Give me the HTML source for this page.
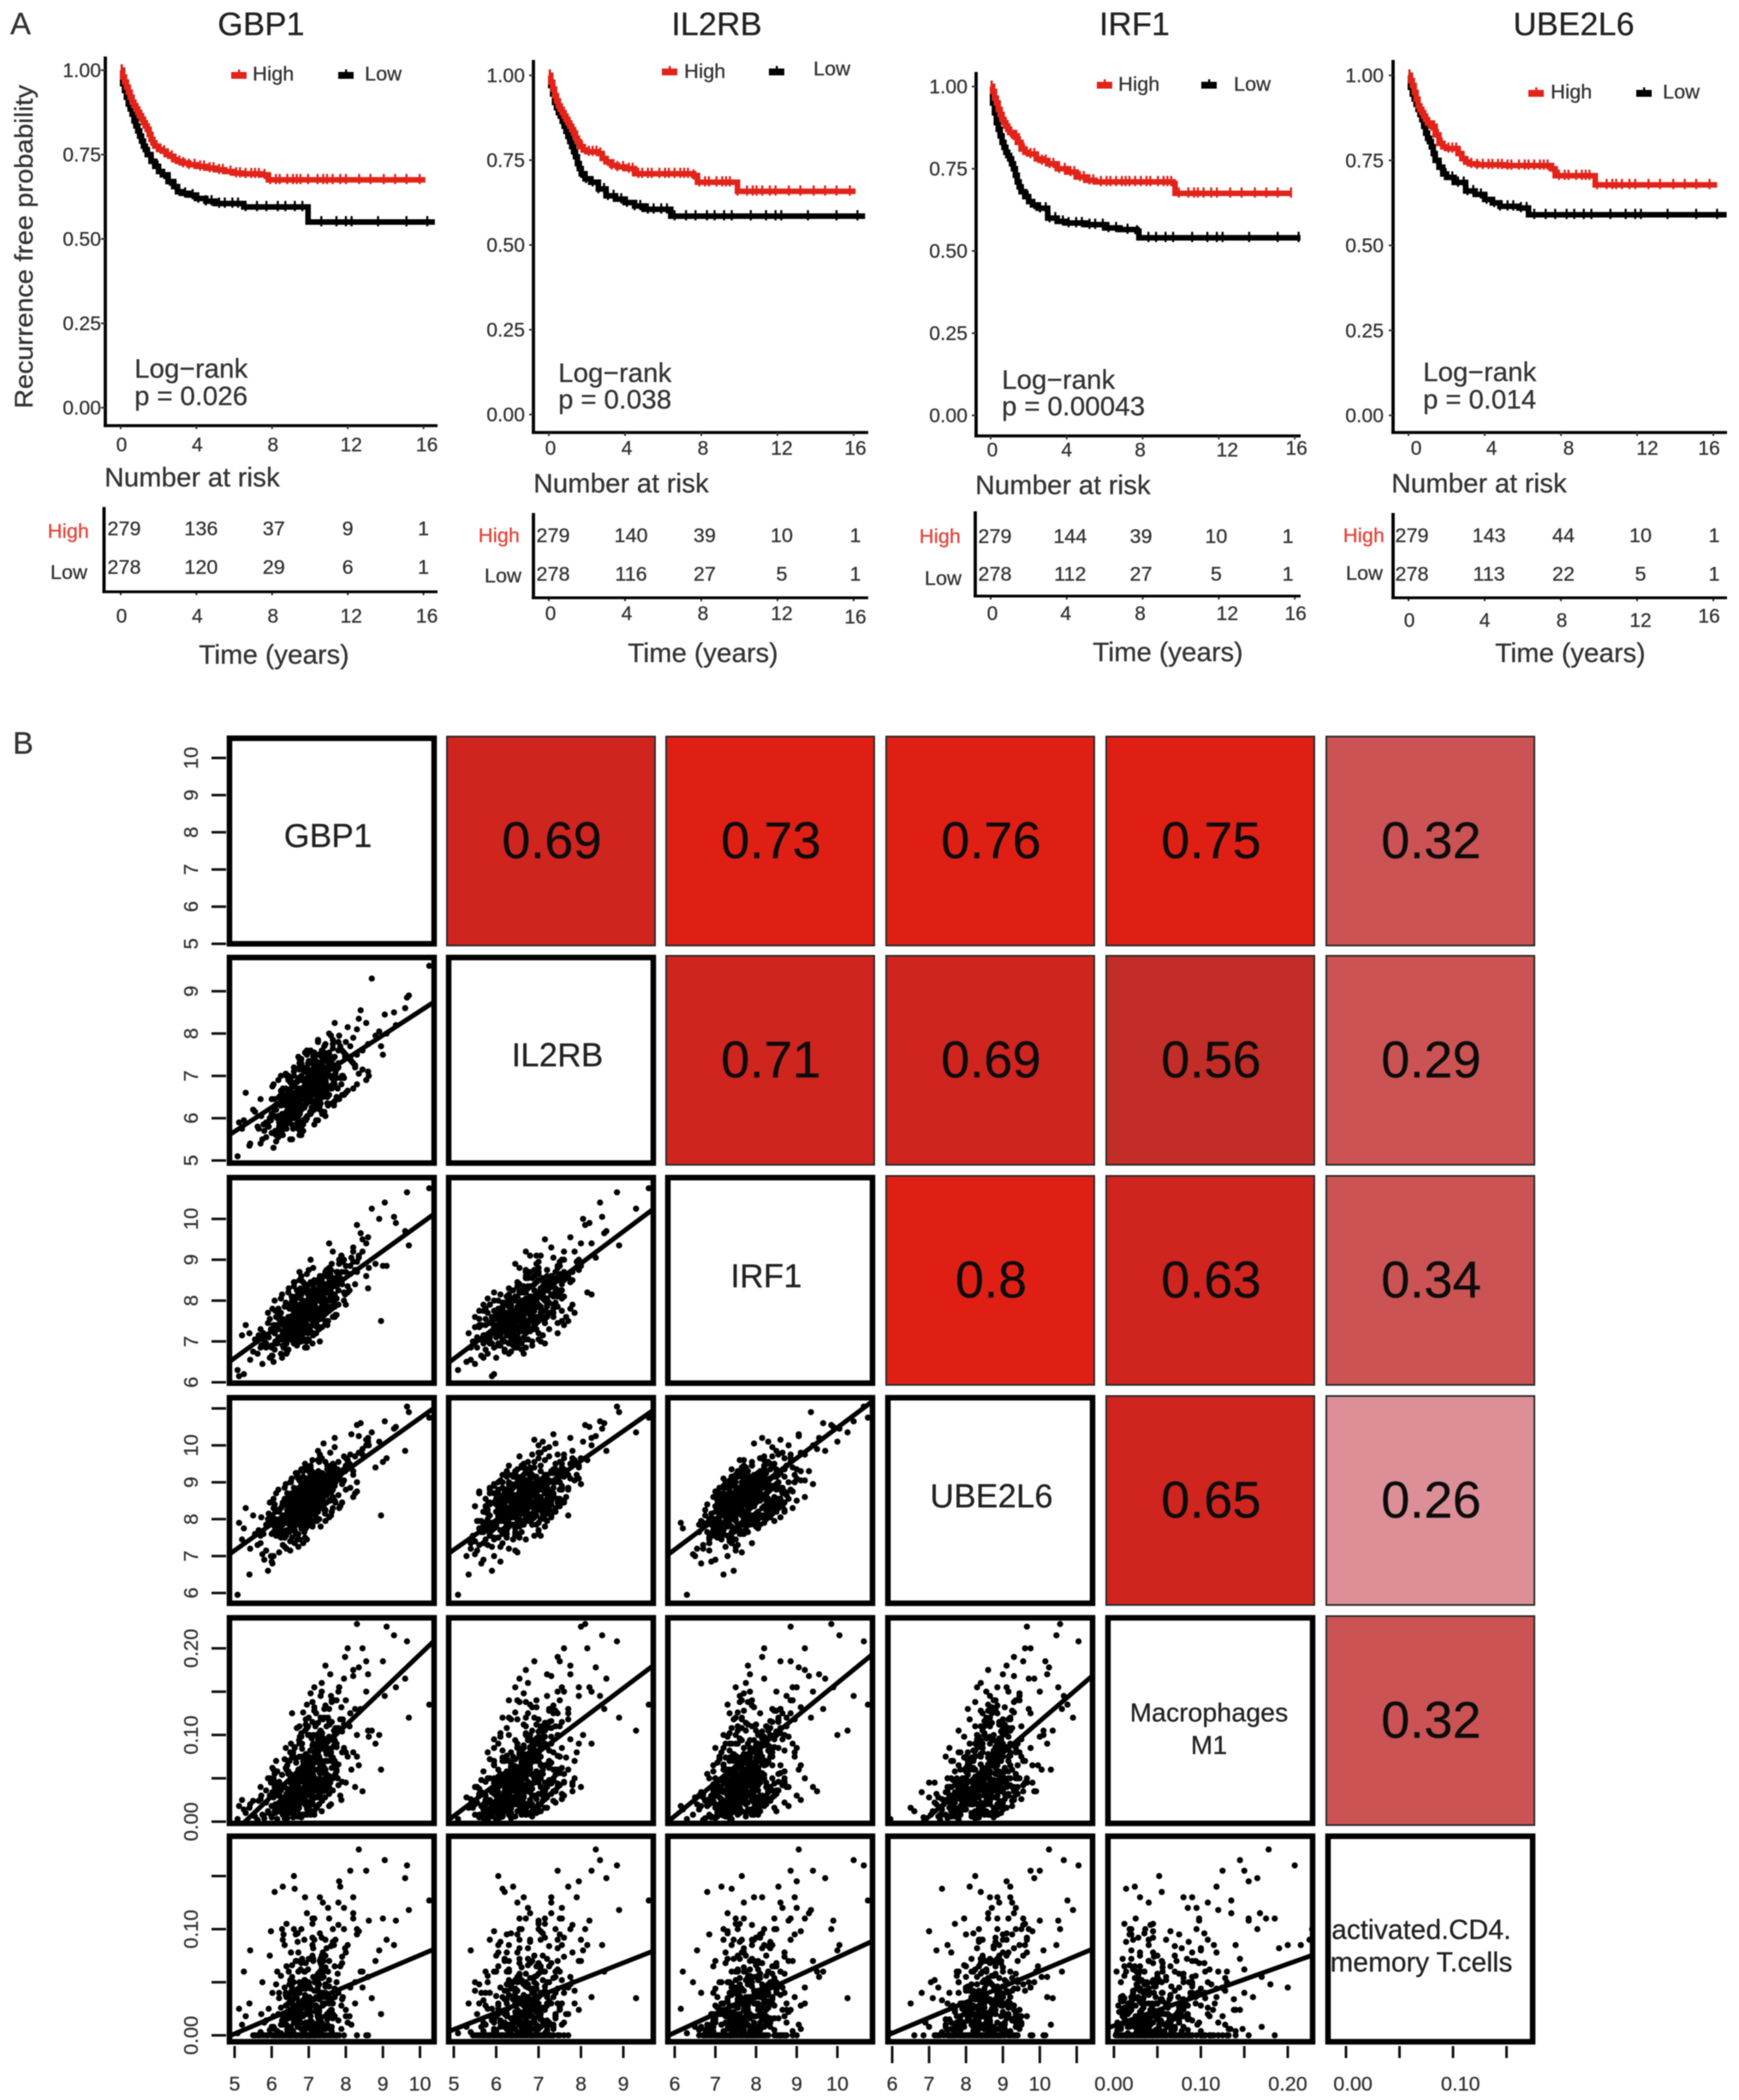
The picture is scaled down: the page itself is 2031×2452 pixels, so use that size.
<!DOCTYPE html>
<html lang="en">
<head>
<meta charset="utf-8">
<title>Survival curves and correlation matrix</title>
<style>
html,body{margin:0;padding:0;background:#fff;width:2031px;height:2452px;overflow:hidden}
svg{display:block;filter:blur(0.6px)}
text{font-family:"Liberation Sans",Arial,sans-serif;stroke:currentColor;stroke-width:0.3px}
</style>
</head>
<body>
<svg id="fig" xmlns="http://www.w3.org/2000/svg" width="2031" height="2452" viewBox="0 0 2031 2452">
<rect x="0" y="0" width="2031" height="2452" fill="#fff"/>
<text x="12" y="40" font-size="36" fill="#333" color="#333">A</text>
<text x="15" y="880" font-size="36" fill="#333" color="#333">B</text>
<text transform="translate(38 288) rotate(-90)" text-anchor="middle" font-size="30" fill="#333" color="#333" textLength="378" lengthAdjust="spacingAndGlyphs">Recurrence free probability</text>
</svg>
<script>
/* ---------- Panel A data: Kaplan-Meier curves ---------- */
const genes = ['GBP1','IL2RB','IRF1','UBE2L6'];
const pValues = ['p = 0.026','p = 0.038','p = 0.00043','p = 0.014'];
const timeTicks = [0,4,8,12,16];
const survTicks = [0,0.25,0.5,0.75,1];
const survTickLabels = ['0.00','0.25','0.50','0.75','1.00'];

const gbp1HighT = [0,0.1,0.2,0.3,0.4,0.5,0.6,0.7,0.8,0.9,1,1.1,1.2,1.3,1.4,1.5,1.6,1.7,1.8,2,2.2,2.4,2.6,2.8,3,3.3,3.6,4,4.5,5,5.5,6,6.5,7.5,7.8,16.1];
const gbp1HighS = [1,0.98,0.965,0.95,0.935,0.92,0.905,0.895,0.885,0.875,0.865,0.855,0.845,0.835,0.825,0.81,0.795,0.785,0.775,0.765,0.76,0.75,0.745,0.735,0.73,0.725,0.72,0.715,0.71,0.705,0.7,0.695,0.693,0.69,0.675,0.675];
const gbp1LowT = [0,0.1,0.2,0.3,0.4,0.5,0.6,0.7,0.8,0.9,1,1.1,1.2,1.3,1.4,1.6,1.8,2,2.2,2.5,2.8,3,3.3,3.6,4,4.5,5,6,6.5,9.8,9.9,16.6];
const gbp1LowS = [1,0.96,0.94,0.92,0.9,0.885,0.87,0.85,0.835,0.82,0.805,0.79,0.775,0.765,0.75,0.73,0.715,0.7,0.69,0.67,0.655,0.64,0.635,0.63,0.62,0.612,0.605,0.605,0.595,0.595,0.55,0.55];

const il2rbHighT = [0,0.1,0.2,0.3,0.4,0.5,0.6,0.7,0.8,0.9,1,1.1,1.2,1.3,1.4,1.5,1.6,1.8,2,2.6,2.8,3,3.3,3.6,4,4.5,7.6,7.8,9.8,9.9,16.1];
const il2rbHighS = [1,0.98,0.96,0.94,0.925,0.91,0.9,0.89,0.88,0.87,0.86,0.85,0.84,0.83,0.815,0.805,0.79,0.78,0.775,0.77,0.755,0.745,0.735,0.73,0.725,0.71,0.705,0.685,0.685,0.658,0.658];
const il2rbLowT = [0,0.1,0.2,0.3,0.4,0.5,0.6,0.7,0.8,0.9,1,1.1,1.2,1.3,1.4,1.5,1.6,1.7,1.9,2.2,2.6,3,3.5,4,4.5,5,6,6.4,16.6];
const il2rbLowS = [1,0.97,0.945,0.92,0.905,0.89,0.88,0.865,0.85,0.835,0.82,0.805,0.79,0.775,0.76,0.74,0.725,0.71,0.695,0.685,0.665,0.645,0.635,0.625,0.615,0.605,0.605,0.585,0.585];

const irf1HighT = [0,0.1,0.2,0.3,0.4,0.5,0.6,0.7,0.8,0.9,1,1.2,1.4,1.6,1.8,2,2.4,2.7,3,3.5,4,4.5,5,5.5,9.6,9.7,15.8];
const irf1HighS = [1,0.985,0.965,0.95,0.93,0.915,0.9,0.89,0.88,0.87,0.86,0.85,0.83,0.81,0.8,0.795,0.78,0.775,0.765,0.75,0.74,0.725,0.715,0.71,0.705,0.675,0.675];
const irf1LowT = [0,0.1,0.2,0.3,0.4,0.5,0.6,0.7,0.8,0.9,1,1.1,1.2,1.3,1.4,1.5,1.6,1.8,2,2.2,2.5,3,3.5,4,5,6,6.8,7.7,7.8,16.3];
const irf1LowS = [1,0.95,0.92,0.89,0.87,0.85,0.83,0.815,0.8,0.79,0.78,0.765,0.75,0.73,0.71,0.695,0.68,0.665,0.65,0.64,0.63,0.6,0.59,0.585,0.58,0.57,0.565,0.56,0.54,0.54];

const ube2l6HighT = [0,0.1,0.2,0.3,0.4,0.5,0.6,0.7,0.8,0.9,1,1.2,1.4,1.6,1.8,2,2.6,2.8,3,3.2,3.6,5,7.5,7.7,9.7,9.8,16.2];
const ube2l6HighS = [1,0.985,0.97,0.95,0.93,0.91,0.9,0.89,0.88,0.87,0.86,0.85,0.825,0.8,0.79,0.785,0.77,0.755,0.745,0.74,0.737,0.735,0.725,0.705,0.705,0.678,0.678];
const ube2l6LowT = [0,0.1,0.2,0.3,0.4,0.5,0.6,0.7,0.8,0.9,1,1.1,1.2,1.3,1.4,1.6,1.8,2,2.4,3,3.5,4,4.4,4.8,5.8,6.3,16.7];
const ube2l6LowS = [1,0.965,0.945,0.93,0.915,0.9,0.885,0.87,0.85,0.83,0.815,0.805,0.79,0.77,0.75,0.73,0.71,0.7,0.685,0.66,0.65,0.635,0.625,0.615,0.61,0.59,0.59];

const censorTimesHigh = [0.05,0.15,0.25,0.35,0.5,0.65,0.8,0.9,1.05,1.2,1.35,1.55,1.75,1.9,2.1,2.3,2.5,2.7,2.9,3.1,3.3,3.6,3.9,4.2,4.4,4.7,4.9,5.2,5.4,5.8,6.1,6.3,6.6,6.9,7.1,7.3,7.6,7.9,8.2,8.4,8.8,9.1,9.3,9.5,9.9,10.4,10.7,10.9,11.2,11.6,11.9,12.6,13.2,13.9,14.5,15.1,15.8];
const censorTimesLow = [0.05,0.15,0.25,0.4,0.55,0.7,0.85,1.0,1.15,1.3,1.5,1.7,1.95,2.3,2.6,2.9,3.1,3.4,3.8,4.1,4.5,4.8,5.2,5.5,5.9,6.2,6.6,7.2,7.7,8.3,8.7,9.2,9.6,10.6,11.4,11.9,12.2,13.6,15.1,16.2];

const riskHigh = [[279,136,37,9,1],[279,140,39,10,1],[279,144,39,10,1],[279,143,44,10,1]];
const riskLow = [[278,120,29,6,1],[278,116,27,5,1],[278,112,27,5,1],[278,113,22,5,1]];

/* ---------- Panel B data: correlation matrix ---------- */
const matrixLabels = [['GBP1'],['IL2RB'],['IRF1'],['UBE2L6'],['Macrophages','M1'],['activated.CD4.','memory T.cells']];
const corrValues = [
 [null,0.69,0.73,0.76,0.75,0.32],
 [null,null,0.71,0.69,0.56,0.29],
 [null,null,null,0.8,0.63,0.34],
 [null,null,null,null,0.65,0.26],
 [null,null,null,null,null,0.32]];
const fitIntercepts = [
 [2.84],
 [3.32,2.68],
 [3.56,3.15,2.22],
 [-0.216,-0.178,-0.224,-0.251],
 [-0.0725,-0.073,-0.1036,-0.0856,0.009]];
const fitSlopes = [
 [0.569],
 [0.655,0.779],
 [0.718,0.804,0.826],
 [0.0409,0.0369,0.0384,0.0367],
 [0.0148,0.0157,0.0177,0.0146,0.291]];

const gbp1 = [
5.08,5.9,5.42,6.0,5.2,5.75,6.1,5.4,5.62,5.95,5.3,5.85,6.02,5.55,5.12,6.05,5.7,5.25,5.8,5.5,
6.3,5.72,6.12,5.98,6.42,5.65,6.2,5.85,6.5,6.08,5.78,6.35,6.0,6.25,5.92,6.4,6.15,5.7,6.05,6.28,
6.55,6.1,6.3,6.72,5.95,6.45,6.18,6.62,6.02,6.38,6.8,6.22,6.5,6.08,6.7,6.32,6.12,6.58,6.25,6.42,
6.2,6.65,6.4,6.05,6.85,6.48,6.28,6.9,6.35,6.6,6.12,6.52,6.75,6.3,6.95,6.45,6.18,6.68,6.4,6.55,
6.8,6.3,6.62,6.95,6.42,7.1,6.55,6.25,6.72,6.5,7.02,6.35,6.68,6.88,6.2,6.6,7.0,6.48,6.75,6.58,
6.45,6.92,6.7,7.15,6.38,6.8,6.55,7.05,6.62,6.3,6.85,7.22,6.5,6.72,6.98,6.6,6.42,7.1,6.78,6.65,
6.55,7.08,6.82,6.4,7.25,6.68,6.95,6.5,7.3,6.75,6.88,6.6,7.15,6.45,6.9,7.02,6.7,7.35,6.58,6.82,
6.65,7.2,6.92,6.5,7.32,6.78,7.05,6.6,7.45,6.85,7.12,6.7,6.98,7.38,6.55,6.95,7.25,6.82,7.1,6.72,
6.75,7.3,7.0,6.6,7.42,6.88,7.18,6.68,7.55,6.95,7.08,6.8,7.35,6.62,7.22,7.5,6.9,7.12,6.72,7.02,
6.82,7.4,7.1,6.65,7.55,6.98,7.28,6.75,7.62,7.05,7.18,6.9,7.45,6.7,7.32,7.6,7.0,7.22,6.8,7.15,
6.9,7.5,7.2,6.75,7.68,7.08,7.38,6.85,7.75,7.15,7.28,7.0,7.55,6.8,7.42,7.7,7.1,7.32,6.95,7.25,
7.05,7.62,7.35,6.9,7.82,7.22,7.52,7.0,7.9,7.3,7.42,7.15,7.7,6.95,7.58,7.85,7.25,7.48,7.1,7.4,
7.2,7.78,7.5,7.05,7.95,7.38,7.68,7.12,8.05,7.45,7.58,7.3,7.88,7.1,7.72,8.0,7.4,7.62,7.25,7.55,
7.45,8.0,7.75,7.25,8.2,7.6,7.92,7.35,8.3,7.7,7.82,7.5,8.12,7.3,7.98,8.25,7.65,7.88,7.4,7.8,
7.8,8.35,8.1,7.55,8.55,7.95,8.25,7.65,8.62,8.05,8.15,7.85,8.45,7.6,8.3,8.6,8.0,8.2,7.7,8.12,
8.4,9.0,8.7,8.2,9.3,8.55,8.95,8.3,9.6,8.8,9.05,8.45,9.7,8.35,9.1,10.25,8.6,9.35,9.65,8.9,
6.1,6.6,6.3,6.75,6.0,6.45,6.85,6.2,6.55,6.35,6.7,5.9,6.5,6.25,6.8,6.4,6.05,6.65,6.3,6.6,
6.25,6.7,6.42,6.88,6.15,6.58,6.95,6.35,6.66,6.48,6.8,6.08,6.62,6.38,6.92,6.52,6.2,6.78,6.44,6.72,
6.35,6.82,6.52,7.0,6.25,6.68,7.05,6.45,6.76,6.58,6.92,6.18,6.72,6.48,7.02,6.62,6.3,6.88,6.54,6.84,
6.45,6.92,6.62,7.1,6.35,6.78,7.15,6.55,6.86,6.68,7.02,6.28,6.82,6.58,7.12,6.72,6.4,6.98,6.64,6.94,
6.55,7.02,6.72,7.2,6.45,6.88,7.25,6.65,6.96,6.78,7.12,6.38,6.92,6.68,7.22,6.82,6.5,7.08,6.74,7.04,
6.62,7.1,6.8,7.28,6.52,6.96,7.32,6.72,7.04,6.86,7.2,6.46,7.0,6.76,7.3,6.9,6.58,7.16,6.82,7.12,
6.7,7.18,6.88,7.36,6.6,7.04,7.4,6.8,7.12,6.94,7.28,6.54,7.08,6.84,7.38,6.98,6.66,7.24,6.9,7.2,
6.78,7.26,6.96,7.44,6.68,7.12,7.48,6.88,7.2,7.02,7.36,6.62,7.16,6.92,7.46,7.06,6.74,7.32,6.98,7.28,
6.85,7.35,7.05,7.52,6.75,7.2,7.58,6.95,7.28,7.1,7.45,6.7,7.25,7.0,7.55,7.15,6.82,7.4,7.06,7.36,
6.95,7.45,7.15,7.65,6.85,7.3,7.7,7.05,7.38,7.2,7.55,6.8,7.35,7.1,7.65,7.25,6.92,7.5,7.16,7.46,
7.05,7.55,7.25,7.75,6.95,7.4,7.8,7.15,7.48,7.3,7.65,6.9,7.45,7.2,7.75,7.35,7.02,7.6,7.26,7.56,
7.15,7.7,7.4,7.9,7.05,7.55,7.95,7.3,7.62,7.45,7.8,7.0,7.6,7.35,7.9,7.5,7.15,7.75,7.42,7.72];

const il2rb = [
5.1,5.9,5.4,6.1,5.75,5.5,6.3,5.35,5.8,6.0,6.6,5.55,5.65,6.15,5.9,5.3,6.45,5.95,5.7,6.2,
5.6,6.05,5.45,5.95,6.35,5.75,6.5,5.9,5.5,6.2,5.85,6.1,5.65,6.55,5.8,6.3,6.0,5.4,6.25,5.7,
6.25,5.7,6.4,5.9,6.0,6.6,5.55,6.15,6.75,5.85,6.3,5.6,6.45,6.05,5.95,6.5,6.2,5.75,6.65,6.1,
5.8,6.5,6.05,6.8,5.7,6.25,6.6,5.95,6.35,6.15,5.6,6.7,6.4,5.85,6.55,6.0,6.9,6.3,5.75,6.2,
6.45,5.85,6.2,6.7,5.95,6.55,6.1,7.0,5.75,6.35,6.6,6.05,6.85,6.25,5.9,6.5,6.75,6.15,6.4,6.0,
6.0,6.65,6.35,5.85,7.05,6.2,6.5,6.8,6.1,6.4,5.95,6.6,6.9,6.25,6.7,6.05,6.45,7.15,6.3,6.55,
6.75,6.15,6.5,7.0,5.95,6.6,6.35,6.85,6.2,7.2,6.45,6.05,6.7,6.9,6.3,6.55,6.1,6.8,6.4,6.65,
6.3,6.85,6.55,6.15,7.15,6.7,6.4,7.0,6.05,6.6,6.9,6.25,7.3,6.5,6.75,6.95,6.35,6.65,7.1,6.45,
6.9,6.3,6.7,7.2,6.15,6.55,6.95,6.4,7.35,6.8,6.25,6.6,7.05,6.5,7.15,6.35,6.85,6.75,7.45,6.65,
6.45,7.05,6.75,6.25,7.3,6.9,6.55,7.15,6.35,6.8,7.5,6.65,7.0,6.4,7.2,6.7,6.95,6.5,7.4,6.6,
7.1,6.5,6.85,7.4,6.3,6.95,6.65,7.2,6.45,7.55,6.75,7.05,6.55,7.3,6.9,6.4,7.15,6.7,7.6,6.8,
6.65,7.25,6.9,7.55,6.45,7.1,6.75,7.35,6.55,7.0,7.7,6.8,7.45,6.6,7.2,6.95,7.5,6.7,7.15,7.05,
7.35,6.7,7.05,7.6,6.55,7.2,6.85,7.45,6.65,7.75,7.0,7.3,6.8,7.55,7.1,6.6,7.4,6.95,7.85,7.15,
6.9,7.5,7.15,7.8,6.7,7.35,7.0,7.6,6.8,7.25,7.95,7.05,7.7,6.85,7.45,7.2,7.75,6.95,7.4,7.3,
7.6,7.05,7.4,8.0,6.9,7.55,7.25,7.85,7.0,8.15,7.35,7.7,7.15,7.95,7.5,7.1,7.8,7.3,8.25,7.45,
8.55,7.5,9.3,7.9,8.5,8.25,7.7,8.1,8.6,7.95,8.45,7.6,8.9,8.35,8.0,9.6,7.75,8.2,8.85,8.05,
5.7,6.2,5.95,5.6,6.45,6.1,5.85,6.35,5.5,6.05,6.6,5.8,6.25,6.5,5.75,6.15,5.65,6.4,6.0,6.3,
6.3,5.8,6.15,6.6,5.7,6.4,6.0,6.55,5.85,6.25,5.6,6.45,6.1,6.7,5.95,6.35,5.75,6.5,6.2,6.05,
5.95,6.5,6.2,6.75,5.8,6.4,6.1,6.65,5.7,6.3,6.85,6.05,6.55,5.9,6.45,6.15,6.7,6.25,5.85,6.6,
6.55,6.0,6.3,6.85,5.85,6.5,6.2,6.75,5.95,6.4,6.95,6.1,6.6,5.8,6.35,6.65,6.05,6.8,6.25,6.45,
6.15,6.7,6.4,5.95,7.0,6.25,6.6,6.85,6.05,6.5,7.1,6.3,6.75,6.0,6.55,6.9,6.2,6.65,6.35,6.8,
6.75,6.2,6.5,7.05,6.05,6.65,6.35,6.95,6.15,6.55,7.15,6.3,6.85,6.1,6.45,6.8,6.25,6.6,6.9,6.4,
6.3,6.9,6.6,6.1,7.1,6.45,6.8,7.0,6.2,6.7,7.25,6.5,6.95,6.25,6.55,7.05,6.35,6.85,6.65,6.75,
6.95,6.4,6.7,7.2,6.25,6.85,6.55,7.1,6.3,6.75,7.35,6.5,7.05,6.35,6.6,7.0,6.45,6.8,7.15,6.65,
6.5,7.1,6.8,6.3,7.3,6.65,7.0,7.2,6.4,6.9,7.45,6.7,7.15,6.45,6.75,7.25,6.55,7.05,6.85,6.95,
7.15,6.6,6.9,7.4,6.45,7.05,6.75,7.3,6.5,6.95,7.55,6.7,7.25,6.55,6.8,7.2,6.65,7.0,7.35,6.85,
6.7,7.3,7.0,6.5,7.5,6.85,7.2,7.4,6.6,7.1,7.65,6.9,7.35,6.65,6.95,7.45,6.75,7.25,7.05,7.15,
7.35,6.8,7.1,7.6,6.65,7.25,6.95,7.5,6.7,7.15,7.8,6.9,7.45,6.75,7.0,7.4,6.85,7.2,7.55,7.05];

const irf1 = [
6.3,7.45,6.55,6.9,7.15,6.45,6.95,7.2,6.7,6.6,7.4,6.85,6.65,7.05,6.15,6.5,7.3,6.2,7.0,6.75,
7.55,6.9,7.0,7.3,6.75,7.15,7.65,6.95,7.35,6.8,7.2,7.5,6.65,7.05,7.1,6.7,7.4,6.85,7.25,6.6,
7.15,7.75,6.9,7.25,7.55,6.8,7.1,7.4,7.8,6.95,7.3,7.05,7.5,7.2,7.35,6.85,7.6,7.0,6.7,7.45,
7.1,7.65,6.95,7.25,7.9,7.35,7.55,6.85,7.15,7.75,7.4,7.05,7.5,7.2,7.0,7.6,7.3,7.85,6.8,7.45,
7.0,7.45,7.95,6.85,7.2,7.7,7.35,7.05,7.55,7.85,7.25,7.4,6.9,7.6,7.55,6.95,7.3,7.8,7.1,7.65,
7.1,7.65,7.3,7.9,7.0,7.4,7.8,7.25,7.6,7.15,8.0,7.5,7.35,7.7,7.2,7.75,7.45,6.95,8.05,7.55,
7.4,7.95,7.15,7.5,8.2,7.3,7.75,7.55,7.0,7.9,7.45,7.65,8.05,7.35,7.85,7.25,7.6,8.1,7.05,7.7,
7.45,8.05,7.25,7.85,7.55,8.3,7.65,7.2,8.0,7.4,7.8,7.5,8.15,7.7,7.35,7.95,7.6,7.1,8.25,7.75,
7.55,8.15,7.35,8.45,7.65,7.95,7.45,8.25,7.8,7.3,8.1,7.6,8.5,7.85,8.05,7.4,7.75,8.35,7.2,7.9,
7.7,8.3,7.5,8.1,8.6,7.8,8.4,7.45,8.05,7.65,8.25,7.95,8.7,7.75,7.6,8.2,7.9,7.35,8.5,8.0,
7.75,8.35,7.55,8.7,7.9,8.2,7.7,8.45,8.05,7.5,8.3,7.85,8.8,8.15,8.25,7.6,8.0,8.55,7.4,8.1,
7.95,8.55,7.75,8.25,8.9,8.05,8.65,7.7,8.4,8.1,8.6,7.9,8.5,8.2,7.85,8.45,8.15,8.75,7.6,8.3,
8.1,8.7,7.85,9.0,8.2,8.6,8.0,8.8,8.35,7.8,8.65,8.15,9.1,8.4,8.55,7.9,8.3,8.9,7.7,8.45,
8.25,8.85,8.05,8.5,9.2,8.35,8.95,8.1,8.7,8.4,9.0,8.2,8.65,8.55,8.15,8.75,8.45,9.1,7.95,8.6,
8.5,9.1,8.25,9.4,8.6,9.0,8.4,9.2,8.8,8.2,9.05,8.55,9.5,8.75,8.95,8.3,8.7,9.3,8.15,8.85,
9.65,8.85,10.25,8.95,10.05,9.4,7.5,9.85,9.7,8.9,10.4,9.2,9.35,9.05,8.85,10.75,9.55,9.9,10.65,10.0,
7.0,7.55,7.25,7.75,6.85,7.45,7.9,7.1,7.6,7.35,6.95,7.7,7.2,7.5,7.8,7.05,7.4,7.65,7.15,7.3,
7.7,7.1,7.45,7.95,6.95,7.55,7.25,7.85,7.0,7.6,7.35,8.0,7.15,7.5,7.75,7.05,7.4,7.65,7.3,7.2,
7.2,7.75,7.5,7.05,8.05,7.35,7.65,7.9,7.15,7.55,7.0,7.8,7.3,7.6,8.1,7.25,7.45,7.7,7.1,7.4,
7.85,7.25,7.55,8.1,7.1,7.7,7.4,8.0,7.2,7.65,7.3,8.15,7.5,7.15,7.9,7.6,7.35,7.75,7.45,7.05,
7.35,7.9,7.65,7.2,8.2,7.5,7.8,8.05,7.3,7.7,7.15,7.95,7.45,7.75,8.25,7.4,7.6,7.85,7.25,7.55,
8.0,7.4,7.7,8.25,7.25,7.85,7.55,8.15,7.35,7.8,7.45,8.3,7.65,7.3,8.05,7.75,7.5,7.9,7.6,7.2,
7.5,8.05,7.8,7.35,8.35,7.65,7.95,8.2,7.45,7.85,7.3,8.1,7.6,7.9,8.4,7.55,7.75,8.0,7.4,7.7,
8.15,7.55,7.85,8.4,7.4,8.0,7.7,8.3,7.5,7.95,7.6,8.45,7.8,7.45,8.2,7.9,7.65,8.05,7.75,7.35,
7.65,8.2,7.95,7.5,8.5,7.8,8.1,8.35,7.6,8.0,7.45,8.25,7.75,8.05,8.55,7.7,7.9,8.15,7.55,7.85,
8.3,7.7,8.0,8.55,7.55,8.15,7.85,8.45,7.65,8.1,7.75,8.6,7.95,7.6,8.35,8.05,7.8,8.2,7.9,7.5,
7.8,8.35,8.1,7.65,8.65,7.95,8.25,8.5,7.75,8.15,7.6,8.4,7.9,8.2,8.7,7.85,8.05,8.3,7.7,8.0,
8.45,7.85,8.15,8.7,7.7,8.3,8.0,8.6,7.8,8.25,7.9,8.75,8.1,7.75,8.5,8.2,7.95,8.35,8.05,7.65];

const ube2l6 = [
5.95,6.6,7.2,6.85,7.45,7.05,8.0,6.5,7.3,7.85,8.3,7.15,6.8,7.6,7.9,7.0,7.55,7.75,6.9,8.1,
7.3,8.05,7.55,7.0,8.25,7.7,7.1,7.85,7.4,8.4,7.6,7.25,7.95,7.5,8.15,7.2,7.8,7.35,8.3,7.65,
7.5,8.2,7.85,7.25,8.45,7.65,7.95,7.35,8.1,7.55,8.6,7.75,7.15,8.3,7.45,8.0,7.6,8.35,7.9,7.7,
8.25,7.6,8.0,8.55,7.35,7.85,8.35,7.5,8.1,7.7,8.7,7.95,7.45,8.4,7.8,8.2,7.55,8.5,7.9,8.05,
7.75,8.45,8.1,7.45,8.7,7.95,8.25,7.6,8.55,7.85,8.35,7.5,8.15,8.8,7.7,8.0,8.4,7.65,8.6,8.2,
8.5,7.85,8.2,8.8,7.55,8.35,8.0,8.65,7.7,8.1,8.9,7.95,8.45,7.6,8.3,8.7,8.05,7.8,8.55,8.25,
8.0,8.6,8.3,7.7,8.95,8.15,8.5,7.85,8.75,8.4,7.65,8.25,8.85,8.05,8.55,7.9,8.35,9.05,8.2,8.65,
8.7,8.05,8.4,9.0,7.8,8.55,8.2,8.85,7.95,9.15,8.3,8.65,8.1,8.9,8.45,7.85,8.75,8.25,9.1,8.5,
8.25,8.85,8.55,7.95,9.2,8.35,8.7,8.05,9.0,8.6,9.3,8.15,8.8,8.45,8.0,8.95,8.65,8.3,9.1,8.4,
8.95,8.3,8.6,9.25,8.05,8.75,8.4,9.05,8.2,9.4,8.5,8.85,8.25,9.15,8.65,8.1,8.9,8.45,9.35,8.7,
8.45,9.1,8.75,8.2,9.45,8.6,8.95,8.3,9.25,8.85,9.55,8.4,9.0,8.65,8.25,9.2,8.8,8.55,9.35,8.9,
9.2,8.55,8.9,9.5,8.3,9.05,8.7,9.3,8.45,9.65,8.8,9.1,8.5,9.4,9.0,8.35,9.15,8.65,9.6,8.95,
8.7,9.35,9.05,8.5,9.7,8.85,9.2,8.55,9.5,9.1,9.8,8.65,9.3,8.9,8.45,9.45,9.0,8.75,9.6,9.15,
9.55,8.8,9.2,9.85,8.6,9.35,9.0,9.65,8.75,9.95,9.1,9.45,8.85,9.75,9.3,8.7,9.5,9.05,10.05,9.25,
9.15,9.8,9.5,8.95,10.15,9.35,9.7,9.05,10.0,9.6,10.3,9.2,9.9,9.45,9.0,10.1,9.65,9.3,10.2,9.75,
10.6,9.55,10.35,9.2,10.45,10.0,8.1,10.55,9.85,9.4,10.65,9.75,10.9,10.25,9.65,10.75,10.2,10.5,11.05,10.1,
8.2,7.75,8.45,7.95,7.6,8.55,8.1,7.85,8.35,7.5,8.6,8.0,7.7,8.3,7.9,8.5,7.65,8.25,8.4,7.8,
7.85,8.4,8.05,8.65,7.7,8.25,7.95,8.55,7.6,8.15,8.75,7.8,8.45,8.0,7.75,8.6,8.2,7.9,8.35,8.1,
8.45,7.9,8.2,8.75,7.75,8.35,8.1,8.65,7.85,8.5,8.0,8.8,8.25,7.7,8.55,7.95,8.4,8.15,8.7,8.3,
8.0,8.55,8.3,7.85,8.85,8.15,8.45,7.95,8.7,8.25,8.95,8.05,8.6,7.8,8.35,8.75,8.1,8.5,8.2,8.4,
8.6,8.05,8.35,8.9,7.9,8.5,8.2,8.8,8.0,8.65,8.15,8.95,8.4,7.85,8.7,8.1,8.55,8.3,8.85,8.45,
8.15,8.7,8.45,8.0,9.0,8.3,8.6,8.1,8.85,8.4,9.1,8.2,8.75,7.95,8.5,8.9,8.25,8.65,8.35,8.55,
8.75,8.2,8.5,9.05,8.05,8.65,8.35,8.95,8.15,8.8,8.3,9.1,8.55,8.0,8.85,8.25,8.7,8.45,9.0,8.6,
8.3,8.85,8.6,8.15,9.15,8.45,8.75,8.25,9.0,8.55,9.25,8.35,8.9,8.1,8.65,9.05,8.4,8.8,8.5,8.7,
8.9,8.35,8.65,9.2,8.2,8.8,8.5,9.1,8.3,8.95,8.45,9.25,8.7,8.15,9.0,8.4,8.85,8.6,9.15,8.75,
8.45,9.0,8.75,8.3,9.3,8.6,8.9,8.4,9.15,8.7,9.4,8.5,9.05,8.25,8.8,9.2,8.55,8.95,8.65,8.85,
9.05,8.5,8.8,9.35,8.35,8.95,8.65,9.25,8.45,9.1,8.6,9.4,8.85,8.3,9.15,8.55,9.0,8.75,9.3,8.9,
8.6,9.15,8.9,8.45,9.45,8.75,9.05,8.55,9.3,8.85,9.55,8.65,9.2,8.4,8.95,9.35,8.7,9.1,8.8,9.0];

const macrophagesM1 = [
0.003,0.012,0.02,0.005,0.025,0.008,0.043,0.016,0.002,0.03,0.01,0.022,0.034,0.006,0.018,0.028,0.04,0.014,0.004,0.024,
0.008,0.03,0.016,0.045,0.004,0.024,0.012,0.036,0.02,0.055,0.007,0.028,0.018,0.04,0.01,0.032,0.003,0.026,0.05,0.014,
0.035,0.01,0.026,0.006,0.05,0.018,0.04,0.014,0.062,0.022,0.008,0.03,0.045,0.012,0.034,0.02,0.07,0.005,0.028,0.016,
0.012,0.04,0.024,0.06,0.008,0.032,0.018,0.05,0.026,0.006,0.038,0.014,0.075,0.022,0.044,0.01,0.03,0.055,0.02,0.035,
0.05,0.015,0.035,0.008,0.065,0.025,0.045,0.012,0.03,0.08,0.018,0.04,0.006,0.055,0.022,0.032,0.01,0.07,0.028,0.042,
0.02,0.06,0.035,0.012,0.085,0.028,0.05,0.008,0.042,0.024,0.07,0.016,0.055,0.03,0.1,0.01,0.038,0.065,0.022,0.045,
0.075,0.025,0.048,0.012,0.095,0.034,0.06,0.018,0.04,0.11,0.022,0.052,0.008,0.07,0.03,0.044,0.014,0.085,0.036,0.056,
0.028,0.08,0.045,0.014,0.105,0.036,0.06,0.02,0.05,0.032,0.09,0.024,0.068,0.04,0.125,0.016,0.048,0.075,0.03,0.055,
0.09,0.03,0.055,0.016,0.12,0.04,0.07,0.022,0.048,0.135,0.028,0.062,0.012,0.085,0.036,0.052,0.02,0.1,0.044,0.066,
0.035,0.095,0.055,0.018,0.13,0.045,0.075,0.026,0.062,0.04,0.11,0.03,0.082,0.05,0.145,0.02,0.058,0.09,0.036,0.068,
0.105,0.04,0.07,0.022,0.14,0.05,0.085,0.03,0.06,0.155,0.035,0.075,0.018,0.098,0.045,0.065,0.028,0.12,0.055,0.08,
0.05,0.115,0.07,0.026,0.155,0.06,0.095,0.035,0.08,0.05,0.13,0.04,0.1,0.065,0.17,0.03,0.075,0.11,0.045,0.088,
0.125,0.05,0.085,0.03,0.165,0.065,0.105,0.04,0.075,0.18,0.045,0.09,0.025,0.115,0.055,0.08,0.035,0.14,0.07,0.098,
0.07,0.14,0.09,0.035,0.175,0.08,0.118,0.045,0.1,0.065,0.155,0.05,0.125,0.085,0.19,0.04,0.095,0.132,0.06,0.108,
0.15,0.065,0.11,0.04,0.185,0.085,0.13,0.05,0.098,0.2,0.06,0.118,0.035,0.145,0.075,0.105,0.045,0.168,0.09,0.125,
0.13,0.185,0.105,0.08,0.215,0.15,0.06,0.228,0.165,0.09,0.145,0.2,0.12,0.178,0.225,0.135,0.17,0.155,0.208,0.1,
0.02,0.045,0.01,0.032,0.006,0.055,0.025,0.015,0.04,0.004,0.03,0.05,0.012,0.036,0.022,0.008,0.048,0.028,0.018,0.038,
0.042,0.014,0.03,0.008,0.058,0.022,0.036,0.012,0.05,0.026,0.005,0.04,0.018,0.062,0.032,0.01,0.046,0.024,0.016,0.034,
0.016,0.05,0.028,0.068,0.012,0.038,0.022,0.056,0.008,0.044,0.03,0.014,0.06,0.034,0.02,0.074,0.042,0.026,0.01,0.048,
0.058,0.024,0.04,0.012,0.072,0.032,0.05,0.018,0.066,0.036,0.01,0.054,0.028,0.08,0.044,0.016,0.06,0.034,0.022,0.046,
0.026,0.066,0.04,0.085,0.018,0.05,0.03,0.072,0.014,0.058,0.038,0.022,0.078,0.046,0.028,0.09,0.054,0.034,0.016,0.062,
0.074,0.034,0.052,0.02,0.09,0.042,0.064,0.026,0.082,0.048,0.016,0.07,0.038,0.098,0.056,0.024,0.076,0.044,0.03,0.06,
0.036,0.082,0.052,0.102,0.024,0.064,0.04,0.09,0.02,0.072,0.048,0.03,0.096,0.058,0.036,0.11,0.068,0.044,0.022,0.078,
0.09,0.044,0.066,0.028,0.108,0.054,0.078,0.034,0.1,0.06,0.024,0.086,0.05,0.118,0.07,0.032,0.094,0.056,0.038,0.074,
0.046,0.098,0.066,0.12,0.032,0.078,0.052,0.108,0.028,0.088,0.06,0.04,0.114,0.072,0.046,0.128,0.084,0.056,0.03,0.094,
0.108,0.056,0.08,0.036,0.126,0.066,0.094,0.044,0.118,0.074,0.032,0.102,0.062,0.138,0.086,0.042,0.112,0.07,0.05,0.09,
0.058,0.116,0.08,0.14,0.042,0.094,0.066,0.128,0.036,0.104,0.074,0.05,0.134,0.088,0.058,0.15,0.1,0.07,0.04,0.112,
0.128,0.07,0.096,0.046,0.148,0.082,0.112,0.056,0.138,0.09,0.042,0.12,0.076,0.16,0.104,0.054,0.132,0.086,0.062,0.108];

const cd4Memory = [
0.002,0,0.08,0,0.01,0.05,0,0.03,0,0.005,0.018,0,0.04,0,0.025,0.008,0,0.06,0.012,0,
0,0.02,0,0.098,0.005,0,0.035,0.014,0,0.135,0,0.045,0.008,0,0.025,0,0.06,0.003,0.018,0,
0.03,0,0.01,0,0.075,0,0.02,0.138,0,0.04,0.006,0,0.052,0,0.015,0.095,0,0.028,0,0.008,
0,0.012,0.065,0,0.033,0,0.1,0.005,0,0.022,0.048,0,0.015,0.09,0,0.037,0,0.07,0.01,0,
0.018,0,0.042,0.008,0,0.11,0,0.026,0.06,0,0.012,0.085,0,0.034,0,0.02,0.072,0,0.05,0.004,
0,0.03,0.096,0,0.015,0,0.055,0.022,0,0.14,0.006,0,0.04,0.078,0,0.025,0,0.012,0.062,0,
0.045,0,0.02,0.105,0,0.035,0.01,0,0.07,0,0.028,0.15,0,0.016,0.052,0,0.088,0.005,0,0.032,
0,0.024,0.068,0,0.04,0.012,0,0.1,0.03,0,0.055,0.008,0,0.125,0.018,0,0.046,0,0.075,0.022,
0.014,0,0.05,0.028,0,0.09,0.006,0,0.036,0.115,0,0.02,0.065,0,0.042,0.01,0,0.082,0.03,0,
0,0.038,0.012,0.095,0,0.024,0.058,0,0.008,0.044,0,0.13,0.018,0,0.072,0.032,0,0.05,0.1,0.004,
0.06,0.016,0,0.04,0.085,0,0.028,0.005,0,0.11,0.048,0,0.022,0.068,0,0.036,0.092,0,0.012,0.054,
0.03,0,0.075,0.01,0,0.052,0.12,0,0.034,0.018,0,0.09,0.044,0,0.008,0.065,0.026,0,0.105,0.04,
0,0.058,0.02,0,0.1,0.038,0,0.07,0.012,0.048,0,0.13,0.028,0.085,0,0.018,0.06,0.004,0.042,0.11,
0.075,0.024,0,0.05,0.11,0.008,0.036,0.092,0,0.065,0.145,0.015,0.045,0,0.082,0.03,0.1,0.006,0.055,0.125,
0.04,0.098,0.018,0.07,0,0.12,0.05,0.03,0.108,0.085,0.01,0.14,0.06,0.024,0.095,0,0.078,0.115,0.036,0.155,
0.06,0.11,0.035,0.13,0.085,0.155,0.02,0.1,0.148,0.07,0.165,0.045,0.118,0.175,0.09,0.127,0.055,0.108,0.16,0.08,
0,0.012,0,0.03,0.006,0,0.018,0,0.042,0,0.008,0,0.024,0.002,0,0.036,0,0.014,0,0.05,
0.01,0,0.022,0,0.004,0.034,0,0.016,0,0.048,0,0.006,0,0.028,0.012,0,0.04,0,0.02,0,
0,0.03,0.008,0,0.056,0,0.014,0.002,0,0.026,0.044,0,0.01,0,0.036,0,0.018,0.06,0,0.005,
0.02,0,0.038,0.012,0,0.024,0,0.066,0.004,0,0.032,0.014,0,0.05,0,0.008,0.028,0,0.042,0,
0,0.046,0.016,0,0.03,0.006,0,0.07,0.022,0,0.01,0.038,0,0.018,0.056,0,0.034,0.004,0,0.026,
0.036,0.008,0,0.024,0.078,0,0.016,0.044,0,0.03,0.002,0.06,0,0.012,0.04,0,0.02,0.05,0.006,0,
0,0.028,0.052,0,0.014,0.034,0.008,0,0.072,0.02,0,0.042,0.01,0,0.03,0.062,0,0.018,0.038,0.004,
0.048,0.012,0,0.036,0.02,0,0.082,0.026,0.004,0,0.054,0.016,0,0.044,0.008,0,0.03,0.068,0,0.022,
0,0.04,0.018,0.06,0,0.028,0.006,0.05,0.034,0,0.09,0.014,0.024,0,0.046,0.01,0.072,0,0.032,0.056,
0.026,0.064,0,0.016,0.044,0.008,0.036,0,0.078,0.022,0.052,0,0.012,0.034,0.088,0.004,0.048,0.018,0,0.04,
0.01,0.03,0.058,0,0.024,0.07,0.014,0.042,0,0.096,0.02,0.05,0.006,0.036,0,0.062,0.028,0.084,0.016,0,
0.054,0.018,0.04,0.074,0.006,0.032,0,0.06,0.024,0.046,0.104,0.012,0,0.036,0.068,0.02,0,0.05,0.03,0.09];

/* ---------- Layout (pixel geometry, separate from the data above) ---------- */
const SVGNS = 'http://www.w3.org/2000/svg';
const fig = document.getElementById('fig');

function node(tag, attrs, parent, txt) {
  const el = document.createElementNS(SVGNS, tag);
  for (const k in attrs) el.setAttribute(k, attrs[k]);
  if (tag === 'text' && attrs.fill) el.setAttribute('color', attrs.fill);
  if (txt !== undefined) el.textContent = txt;
  (parent || fig).appendChild(el);
  return el;
}

const kmSeries = [
  {high:[gbp1HighT,gbp1HighS], low:[gbp1LowT,gbp1LowS]},
  {high:[il2rbHighT,il2rbHighS], low:[il2rbLowT,il2rbLowS]},
  {high:[irf1HighT,irf1HighS], low:[irf1LowT,irf1LowS]},
  {high:[ube2l6HighT,ube2l6HighS], low:[ube2l6LowT,ube2l6LowS]}
];

const kmLayout = [
 {title:305,titleY:41,x0:141,xk:22.1,y1:82,y0:476,ax:123,top:66,bot:497,right:511,yLab:118,
  topNudge:[1,1,1,4,4],lowNudge:[1,1,1,4,4],lowBase:[727,727,727,727,727],topBase:[527,527,527,527,527],
  log:[157,441,473],nar:[122,568],tax:121.5,ttop:592,tbot:691,r1:625,r2:670,hi:[104,628],lo:[102,676],riskNudge:[4,5.5,2,0,0],
  time:[320,775],key1:[270,88],high:[295,94],key2:[395,88],lowT:[426,94]},
 {title:837,titleY:41,x0:641,xk:22.25,y1:88,y0:484,ax:623,top:70,bot:505,right:1014,yLab:613,
  topNudge:[2,2,2,5,2],lowNudge:[2,2,2,5,2],lowBase:[724,724,724,724,728],topBase:[531,531,531,531,531],
  log:[652,446,477],nar:[623,575],tax:623,ttop:599,tbot:698,r1:633,r2:678,hi:[607,633],lo:[609,680],riskNudge:[5,7,4,5,2],
  time:[821,773],key1:[773,84],high:[799,91],key2:[898,84],lowT:[950,88]},
 {title:1325,titleY:41,x0:1157,xk:22.2,y1:101,y0:485,ax:1140,top:84,bot:509,right:1519,yLab:1130,
  topNudge:[2,0,-3,10,2],lowNudge:[2,-1,-3,10,1],lowBase:[724,724,724,724,724],topBase:[533,533,533,533,531],
  log:[1170,454,485],nar:[1139,577],tax:1139,ttop:597,tbot:696,r1:634,r2:678,hi:[1122,634],lo:[1123,683],riskNudge:[5,4,-2,-3,-8],
  time:[1364,772],key1:[1281,99.5],high:[1306,106],key2:[1403,99.5],lowT:[1441,106]},
 {title:1838,titleY:41,x0:1645,xk:22.25,y1:88,y0:485,ax:1627,top:70,bot:505,right:2017,yLab:1616,
  topNudge:[9,8,9,12,-5],lowNudge:[1,0,1,4,-5],lowBase:[732,732,732,732,727],topBase:[531,531,531,531,531],
  log:[1662,445,477],nar:[1625,575],tax:1627,ttop:599,tbot:698,r1:633,r2:678,hi:[1617,633],lo:[1615,677],riskNudge:[4,5,3,4,1],
  time:[1834,773],key1:[1785,109],high:[1811,115],key2:[1911,109],lowT:[1942,115]}
];

const RED = '#e2231a', TXT = '#333', DARK = '#222';

function stepPath(ts, ss, sx, sy) {
  let d = 'M' + sx(ts[0]) + ' ' + sy(ss[0]);
  for (let i = 1; i < ts.length; i++) {
    d += 'H' + sx(ts[i]) + 'V' + sy(ss[i]);
  }
  return d;
}
function survAt(ts, ss, t) {
  let s = ss[0];
  for (let i = 0; i < ts.length; i++) { if (ts[i] <= t) s = ss[i]; }
  return s;
}

kmLayout.forEach(function (L, p) {
  const gene = genes[p].toLowerCase();
  const sx = function (t) { return L.x0 + L.xk * t; };
  const sy = function (s) { return L.y0 - (L.y0 - L.y1) * s; };
  const g = node('g', {}, fig);
  
  

  const title = node('text', {x:L.title, y:L.titleY, 'font-size':38, 'text-anchor':'middle', fill:DARK}, g, genes[p]);
  
  

  const yAxis = node('line', {x1:L.ax, x2:L.ax, y1:L.top, y2:L.bot, stroke:'#000', 'stroke-width':3.8}, g);
  
  
  const xAxis = node('line', {x1:L.ax - 2, x2:L.right, y1:L.bot, y2:L.bot, stroke:'#000', 'stroke-width':3.6}, g);
  
  

  survTicks.forEach(function (v, i) {
    const tick = node('line', {x1:L.ax - 5, x2:L.ax, y1:sy(v), y2:sy(v), stroke:'#333', 'stroke-width':2}, g);
    
    
    const lab = node('text', {x:L.yLab, y:sy(v) + 8, 'font-size':23, 'text-anchor':'end', fill:TXT}, g, survTickLabels[i]);
    
    
  });
  timeTicks.forEach(function (t, i) {
    const tick = node('line', {x1:sx(t), x2:sx(t), y1:L.bot, y2:L.bot + 4, stroke:'#333', 'stroke-width':2}, g);
    
    
    const lab = node('text', {x:sx(t) + L.topNudge[i], y:L.topBase[i], 'font-size':23, 'text-anchor':'middle', fill:TXT}, g, t);
    
    
    const tick2 = node('line', {x1:sx(t), x2:sx(t), y1:L.tbot, y2:L.tbot + 4, stroke:'#333', 'stroke-width':2}, g);
    
    
    const lab2 = node('text', {x:sx(t) + L.lowNudge[i], y:L.lowBase[i], 'font-size':23, 'text-anchor':'middle', fill:TXT}, g, t);
    
    
    const r1 = node('text', {x:sx(t) + L.riskNudge[i], y:L.r1, 'font-size':23.5, 'text-anchor':'middle', fill:TXT}, g, riskHigh[p][i]);
    
    
    const r2 = node('text', {x:sx(t) + L.riskNudge[i], y:L.r2, 'font-size':23.5, 'text-anchor':'middle', fill:TXT}, g, riskLow[p][i]);
    
    
  });

  const S = kmSeries[p];
  const low = node('path', {d:stepPath(S.low[0], S.low[1], sx, sy), fill:'none', stroke:'#000', 'stroke-width':6.5}, g);
  
  
  censorTimesLow.forEach(function (t) {
    const y = sy(survAt(S.low[0], S.low[1], t));
    const c = node('line', {x1:sx(t), x2:sx(t), y1:y - 7, y2:y + 5, stroke:'#000', 'stroke-width':2.4}, g);
    
    
  });
  const high = node('path', {d:stepPath(S.high[0], S.high[1], sx, sy), fill:'none', stroke:RED, 'stroke-width':6.5}, g);
  
  
  censorTimesHigh.forEach(function (t) {
    const y = sy(survAt(S.high[0], S.high[1], t));
    const c = node('line', {x1:sx(t), x2:sx(t), y1:y - 7, y2:y + 5, stroke:RED, 'stroke-width':2.4}, g);
    
    
  });

  const lr = node('text', {x:L.log[0], y:L.log[1], 'font-size':31.5, fill:'#333'}, g, 'Log\u2212rank');
  
  
  const pv = node('text', {x:L.log[0], y:L.log[2], 'font-size':31.5, fill:'#333'}, g, pValues[p]);
  
  

  const k1 = node('rect', {x:L.key1[0], y:L.key1[1] - 4, width:18, height:8, fill:RED}, g);
  
  
  const k1m = node('rect', {x:L.key1[0] + 8, y:L.key1[1] - 7, width:2.4, height:10, fill:RED}, g);
  
  
  const t1 = node('text', {x:L.high[0], y:L.high[1], 'font-size':23.5, fill:'#333'}, g, 'High');
  
  
  const k2 = node('rect', {x:L.key2[0], y:L.key2[1] - 4, width:18, height:8, fill:'#000'}, g);
  
  
  const k2m = node('rect', {x:L.key2[0] + 8, y:L.key2[1] - 7, width:2.4, height:10, fill:'#000'}, g);
  
  
  const t2 = node('text', {x:L.lowT[0], y:L.lowT[1], 'font-size':23.5, fill:'#333'}, g, 'Low');
  
  

  const nar = node('text', {x:L.nar[0], y:L.nar[1], 'font-size':31.5, fill:'#333'}, g, 'Number at risk');
  
  
  const ty = node('line', {x1:L.tax, x2:L.tax, y1:L.ttop, y2:L.tbot, stroke:'#000', 'stroke-width':3.8}, g);
  
  
  const tx = node('line', {x1:L.tax - 2, x2:L.right, y1:L.tbot, y2:L.tbot, stroke:'#000', 'stroke-width':3.2}, g);
  
  
  const hi = node('text', {x:L.hi[0], y:L.hi[1], 'font-size':23.5, 'text-anchor':'end', fill:'#e8433a'}, g, 'High');
  
  
  const lo = node('text', {x:L.lo[0], y:L.lo[1], 'font-size':23.5, 'text-anchor':'end', fill:'#333'}, g, 'Low');
  
  
  const tm = node('text', {x:L.time[0], y:L.time[1], 'font-size':31.5, 'text-anchor':'middle', fill:'#333'}, g, 'Time (years)');
  
  
});

/* ---------- Panel B: pair plot ---------- */
const colLeft = [265,521,777,1034,1291,1548];
const colWidth = [245,245,245,245,245,245];
const rowTop = [859,1115,1372,1629,1886,2141];
const rowHeight = 246;

const variables = [gbp1, il2rb, irf1, ube2l6, macrophagesM1, cd4Memory];
const xTickVals = [[5,6,7,8,9,10],[5,6,7,8,9],[6,7,8,9,10],[6,7,8,9,10,11],[0,0.05,0.1,0.15,0.2],[0,0.05,0.1,0.15]];
const xTickText = [['5','6','7','8','9','10'],['5','6','7','8','9'],['6','7','8','9','10'],['6','7','8','9','10'],['0.00','0.10','0.20'],['0.00','0.10']];
const xTextVals = [[5,6,7,8,9,10],[5,6,7,8,9],[6,7,8,9,10],[6,7,8,9,10],[0,0.1,0.2],[0.0065,0.107]];
const yTickVals = [[5,6,7,8,9,10],[5,6,7,8,9],[6,7,8,9,10],[6,7,8,9,10,11],[0,0.05,0.1,0.15,0.2],[0,0.05,0.1,0.15]];
const yTickText = [['5','6','7','8','9','10'],['5','6','7','8','9'],['6','7','8','9','10'],['6','7','8','9','10'],['0.00','0.10','0.20'],['0.00','0.10']];
const yTextVals = [[5,6,7,8,9,10],[5,6,7,8,9],[6,7,8,9,10],[6,7,8,9,10],[0,0.1,0.2],[0,0.1]];

const xScaleParams = [[274,5,43.3],[530,5,49.5],[788,6,47.5],[1042,6,43.1],[1301,0,1015],[1572,0,1250]];
const yScaleParams = [[1102,5,43.4],[1355,5,49.4],[1614,6,47.7],[1860,6,43.1],[2127,0,1012],[2376.5,0,1240]];
function xOf(c, v) { const s = xScaleParams[c]; return s[0] + (v - s[1]) * s[2]; }
function yOf(r, v) { const s = yScaleParams[r]; return s[0] - (v - s[1]) * s[2]; }
function xInv(c, px) { const s = xScaleParams[c]; return s[1] + (px - s[0]) / s[2]; }

const cellColour = function (v) {
  if (v >= 0.73) return '#e01f14';
  if (v >= 0.60) return '#d0241f';
  if (v >= 0.45) return '#c22d27';
  if (v >= 0.28) return '#cc5353';
  return '#dd8f97';
};

const defs = node('defs', {}, fig);
const matrix = node('g', {}, fig);



for (let r = 0; r < 6; r++) {
  for (let c = 0; c < 6; c++) {
    const X = colLeft[c], Y = rowTop[r], W = colWidth[c], H = rowHeight;
    if (c > r) {
      const val = corrValues[r][c];
      const cell = node('rect', {x:X + 1, y:Y + 1, width:W - 2, height:H - 2, fill:cellColour(val), stroke:'#2b2b2b', 'stroke-width':2}, matrix);
      
      
      const t = node('text', {x:X + W / 2 + 1, y:Y + H / 2 + 20, 'font-size':60, 'text-anchor':'middle', fill:'#0c0c0c'}, matrix, String(val));
      
      
      continue;
    }
    const frame = node('rect', {x:X + 3, y:Y + 3, width:W - 6, height:H - 6, fill:'#fff', stroke:'#000', 'stroke-width':6.5}, matrix);
    
    
    if (c === r) continue;

    const clip = node('clipPath', {id:'clip-' + r + '-' + c}, defs);
    node('rect', {x:X + 5, y:Y + 5, width:W - 10, height:H - 10}, clip);
    const g = node('g', {'clip-path':'url(#clip-' + r + '-' + c + ')'}, matrix);
    
    

    const xs = variables[c], ys = variables[r];
    const n = Math.min(xs.length, ys.length);
    for (let i = 0; i < n; i++) {
      const pt = node('circle', {cx:xOf(c, xs[i]), cy:yOf(r, ys[i]), r:3.6, fill:'#000'}, g);
      
      
    }
    const b = fitIntercepts[r - 1][c], m = fitSlopes[r - 1][c];
    const xa = xInv(c, X), xb = xInv(c, X + W);
    const fit = node('line', {x1:xOf(c, xa), y1:yOf(r, b + m * xa), x2:xOf(c, xb), y2:yOf(r, b + m * xb), stroke:'#000', 'stroke-width':5.5}, g);
    
    
  }
}

/* diagonal labels */
const diagPlaces = [
  {x:383, y:[989], size:38.5},
  {x:651, y:[1245], size:38.5},
  {x:895, y:[1503], size:38.5},
  {x:1158, y:[1760], size:38.5},
  {x:1412, y:[2010,2048], size:30.5},
  {x:1660, y:[2264,2302], size:32}
];
const macroClip = node('clipPath', {id:'macro-clip'}, defs);
node('rect', {x:1300, y:1900, width:206, height:220}, macroClip);
diagPlaces.forEach(function (d, i) {
  matrixLabels[i].forEach(function (txt, j) {
    const attrs = {x:d.x, y:d.y[j], 'font-size':d.size, 'text-anchor':'middle', fill:DARK};
    if (i === 4) attrs['clip-path'] = 'url(#macro-clip)';
    const t = node('text', attrs, matrix, txt);
    
    
  });
});

/* outer axes */
const tickEndBottom = [2403,2403,2403,2409,2403,2403];
for (let c = 0; c < 6; c++) {
  xTickVals[c].forEach(function (v) {
    const t = node('line', {x1:xOf(c, v), x2:xOf(c, v), y1:2389, y2:tickEndBottom[c], stroke:'#111', 'stroke-width':3}, matrix);
    
    
  });
  xTickText[c].forEach(function (txt, i) {
    const t = node('text', {x:xOf(c, xTextVals[c][i]), y:2441, 'font-size':23.5, 'text-anchor':'middle', fill:TXT}, matrix, txt);
    
    
  });
}
for (let r = 0; r < 6; r++) {
  yTickVals[r].forEach(function (v) {
    const t = node('line', {x1:247, x2:264, y1:yOf(r, v), y2:yOf(r, v), stroke:'#111', 'stroke-width':3}, matrix);
    
    
  });
  yTickText[r].forEach(function (txt, i) {
    const y = yOf(r, yTextVals[r][i]);
    const t = node('text', {transform:'translate(231 ' + y + ') rotate(-90)', 'font-size':23.5, 'text-anchor':'middle', fill:TXT}, matrix, txt);
    
    
  });
}
</script>
</body>
</html>
